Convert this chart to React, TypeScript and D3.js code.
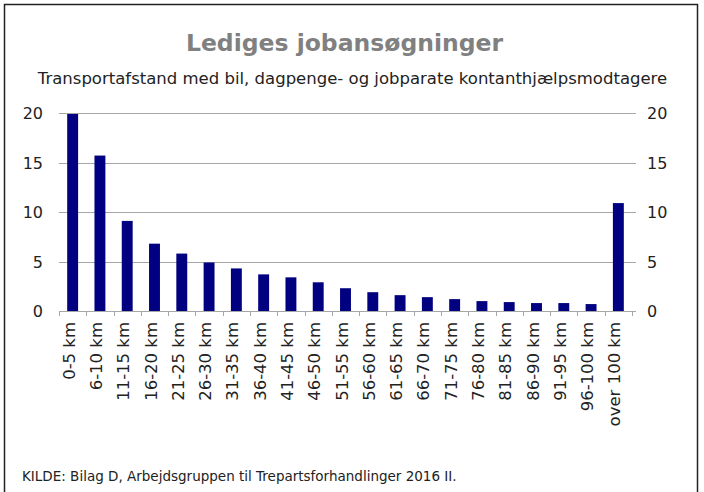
import React, { useEffect, useRef } from 'react';
import * as d3 from 'd3';

const categories = [
  '0-5 km', '6-10 km', '11-15 km', '16-20 km', '21-25 km', '26-30 km', '31-35 km',
  '36-40 km', '41-45 km', '46-50 km', '51-55 km', '56-60 km', '61-65 km', '66-70 km',
  '71-75 km', '76-80 km', '81-85 km', '86-90 km', '91-95 km', '96-100 km', 'over 100 km',
];
const values = [
  19.9, 15.7, 9.1, 6.8, 5.8, 4.9, 4.3, 3.7, 3.4, 2.9, 2.3, 1.9, 1.6, 1.4, 1.2, 1.0, 0.9,
  0.8, 0.8, 0.7, 10.9,
];
const yTicks = [0, 5, 10, 15, 20];

const title = 'Lediges jobansøgninger';
const subtitle = 'Transportafstand med bil, dagpenge- og jobparate kontanthjælpsmodtagere';
const source = 'KILDE: Bilag D, Arbejdsgruppen til Trepartsforhandlinger 2016 II.';

export default function App() {
  const ref = useRef<SVGSVGElement>(null);
  const width = 704,
    height = 492;
  const margin = { top: 113, right: 72, bottom: 181, left: 59 };

  useEffect(() => {
    const svg = d3.select(ref.current);
    svg.selectAll('*').remove();

    const x = d3
      .scaleBand()
      .domain(categories)
      .range([margin.left, width - margin.right])
      .paddingInner(0.6)
      .paddingOuter(0.3);

    const y = d3
      .scaleLinear()
      .domain([0, 20])
      .range([height - margin.bottom, margin.top]);

    const font = 'Verdana, "DejaVu Sans", sans-serif';

    // frame
    svg
      .append('rect')
      .attr('x', 4.5)
      .attr('y', 4.5)
      .attr('width', 693)
      .attr('height', 500)
      .attr('fill', 'white')
      .attr('stroke', '#222')
      .attr('stroke-width', 1.5);

    // gridlines
    svg
      .append('g')
      .selectAll('line')
      .data(yTicks.filter((d) => d > 0))
      .join('line')
      .attr('x1', margin.left)
      .attr('x2', width - margin.right)
      .attr('y1', (d) => Math.round(y(d)) + 0.5)
      .attr('y2', (d) => Math.round(y(d)) + 0.5)
      .attr('stroke', '#a6a6a6')
      .attr('stroke-width', 1);

    // bars
    svg
      .append('g')
      .selectAll('rect')
      .data(values)
      .join('rect')
      .attr('x', (d, i) => x(categories[i]) as number)
      .attr('width', x.bandwidth())
      .attr('y', (d) => y(d))
      .attr('height', (d) => y(0) - y(d))
      .attr('fill', '#000080');

    // x axis
    const x0 = margin.left;
    const x1 = width - margin.right;
    const xg = svg.append('g');
    xg.append('line')
      .attr('x1', x0)
      .attr('x2', x1 + 4)
      .attr('y1', y(0) + 0.5)
      .attr('y2', y(0) + 0.5)
      .attr('stroke', '#a6a6a6');
    xg.selectAll('line.tick')
      .data(d3.range(categories.length + 1))
      .join('line')
      .attr('class', 'tick')
      .attr('x1', (i) => Math.round(x0 + ((x1 - x0) * i) / categories.length) + 0.5)
      .attr('x2', (i) => Math.round(x0 + ((x1 - x0) * i) / categories.length) + 0.5)
      .attr('y1', y(0))
      .attr('y2', y(0) + 5)
      .attr('stroke', '#a6a6a6');
    xg.selectAll('text')
      .data(categories)
      .join('text')
      .attr(
        'transform',
        (d) => `translate(${(x(d) as number) + x.bandwidth() / 2 + 2},${y(0) + 11}) rotate(-90)`
      )
      .attr('text-anchor', 'end')
      .attr('font-family', font)
      .attr('font-size', 16.5)
      .attr('fill', '#222')
      .text((d) => d);

    // left y axis
    svg
      .append('g')
      .selectAll('text')
      .data(yTicks)
      .join('text')
      .attr('x', 43)
      .attr('y', (d) => y(d) + 6)
      .attr('text-anchor', 'end')
      .attr('font-family', font)
      .attr('font-size', 16)
      .attr('fill', '#222')
      .text((d) => d);

    // right y axis
    const rg = svg.append('g');
    rg.selectAll('line')
      .data(yTicks)
      .join('line')
      .attr('x1', x1)
      .attr('x2', x1 + 4)
      .attr('y1', (d) => Math.round(y(d)) + 0.5)
      .attr('y2', (d) => Math.round(y(d)) + 0.5)
      .attr('stroke', '#a6a6a6');
    rg.selectAll('text')
      .data(yTicks)
      .join('text')
      .attr('x', 647)
      .attr('y', (d) => y(d) + 6)
      .attr('text-anchor', 'start')
      .attr('font-family', font)
      .attr('font-size', 16)
      .attr('fill', '#222')
      .text((d) => d);

    // titles
    svg
      .append('text')
      .attr('x', 344.5)
      .attr('y', 51)
      .attr('text-anchor', 'middle')
      .attr('font-family', font)
      .attr('font-weight', 'bold')
      .attr('font-size', 23.5)
      .attr('fill', '#808080')
      .text(title);
    svg
      .append('text')
      .attr('x', 352.5)
      .attr('y', 84)
      .attr('text-anchor', 'middle')
      .attr('font-family', font)
      .attr('font-size', 16.5)
      .attr('fill', '#222')
      .text(subtitle);
    svg
      .append('text')
      .attr('x', 22)
      .attr('y', 481)
      .attr('font-family', font)
      .attr('font-size', 13.5)
      .attr('fill', '#222')
      .text(source);
  }, []);

  return (
    <div style={{ position: 'absolute', left: 0, top: 0 }}>
      <svg ref={ref} width={width} height={height} viewBox={`0 0 ${width} ${height}`} />
    </div>
  );
}
